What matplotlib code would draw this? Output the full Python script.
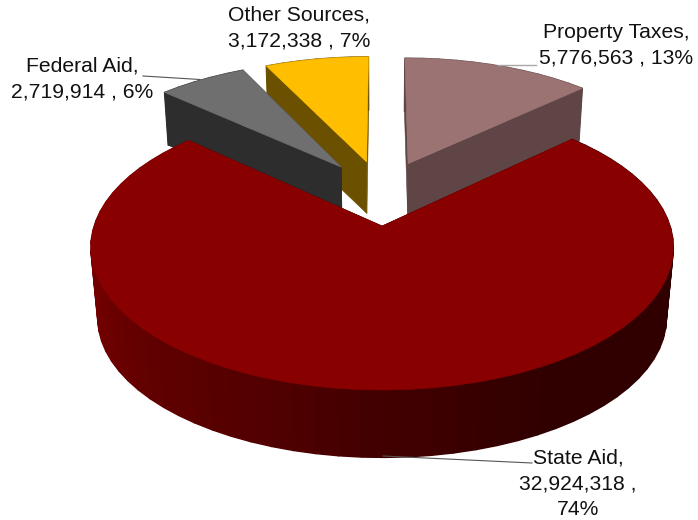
import matplotlib.pyplot as plt
from matplotlib.patches import Polygon
import numpy as np

plt.rcParams['font.family'] = ['Liberation Sans', 'DejaVu Sans']

# revenue sources, clockwise from twelve o'clock
sources = ["Property Taxes", "State Aid", "Federal Aid", "Other Sources"]
amounts = [5776563, 32924318, 2719914, 3172338]

top_colors = ["#9B7373", "#880000", "#6F6F6F", "#FFBE00"]
wall_colors = ["#5F4545", "#300000", "#2D2D2D", "#6B5000"]

# camera for the tilted pie, in pixels
CX, CY = 381.5, 226.0
SX, SY = 288.0, 139.4
PERSP = 0.15
VANISH = (381.0, 3200.0)
EXPLODE = 0.25


def project(x, y):
    w = 1 + PERSP * y
    return CX + SX * x / w, CY - SY * y / w


def drop(px, py, depth):
    # move a point of the top face down to the bottom face
    return px + depth * (VANISH[0] - px), py + depth * (VANISH[1] - py)


def state_wall_color(theta):
    # outer wall of the big slice gets lighter going round to the left
    red = np.interp(theta, [46, 150, 180, 205, 250, 312], [48, 48, 66, 84, 112, 120])
    return (red / 255, 0, 0)


def draw_slice(ax, start, stop, radius, depth, top, wall, shaded=False):
    mid = np.radians((start + stop) / 2)
    ox = EXPLODE * np.sin(mid)
    oy = EXPLODE * np.cos(mid) + EXPLODE

    n = max(int((stop - start) / 4), 4)
    thetas = np.linspace(start, stop, n + 1)
    rx = ox + radius * np.sin(np.radians(thetas))
    ry = oy + radius * np.cos(np.radians(thetas))
    px, py = project(rx, ry)
    bx, by = drop(px, py, depth)
    ax_, ay_ = project(ox, oy)
    cx_, cy_ = drop(ax_, ay_, depth)

    # flat cut faces
    for i in (0, -1):
        pts = [(ax_, ay_), (px[i], py[i]), (bx[i], by[i]), (cx_, cy_)]
        ax.add_patch(Polygon(pts, closed=True, fc=wall, ec=wall, lw=0.4))

    # outer wall, in narrow bands; thick edges so no seam shows between them
    for i in range(n):
        color = state_wall_color((thetas[i] + thetas[i + 1]) / 2) if shaded else wall
        pts = [(px[i], py[i]), (px[i + 1], py[i + 1]), (bx[i + 1], by[i + 1]), (bx[i], by[i])]
        ax.add_patch(Polygon(pts, closed=True, fc=color, ec=color, lw=1.0))

    pts = [(ax_, ay_)] + list(zip(px, py))
    ax.add_patch(Polygon(pts, closed=True, fc=top, ec=top, lw=0.4))


fig = plt.figure(figsize=(6.98, 5.2), dpi=100)
ax = fig.add_axes([0, 0, 1, 1])
ax.set_xlim(0, 698)
ax.set_ylim(520, 0)
ax.axis('off')

total = sum(amounts)
edges = np.concatenate([[0], np.cumsum(amounts) / total * 360])

radii = [0.99, 1.0, 0.99, 0.99]
depths = [0.017, 0.024, 0.017, 0.017]

# far slices first, the big one goes over them
for i in [3, 2, 0, 1]:
    draw_slice(ax, edges[i], edges[i + 1], radii[i], depths[i],
               top_colors[i], wall_colors[i], shaded=(i == 1))

# leader lines
ax.plot([498, 536], [65, 65], color='#A8A8A8', lw=1)
ax.plot([143, 200], [76, 79.5], color='#555555', lw=0.8)
ax.plot([383, 532], [456, 463], color='#555555', lw=0.8)


def pct(v):
    return round(v / total * 100)


labels = [
    f"{sources[0]},\n{amounts[0]:,} , {pct(amounts[0])}%",
    f"{sources[1]},\n{amounts[1]:,} ,\n{pct(amounts[1])}%",
    f"{sources[2]},\n{amounts[2]:,} , {pct(amounts[2])}%",
    f"{sources[3]},\n{amounts[3]:,} , {pct(amounts[3])}%",
]
label_pos = [(616, 45), (578, 484), (82, 79), (299, 28)]

for text, (x, y) in zip(labels, label_pos):
    ax.text(x, y, text, ha='center', va='center', fontsize=15.2,
            color='#111111', linespacing=1.46)

plt.savefig("out.png", dpi=100)
plt.close()
